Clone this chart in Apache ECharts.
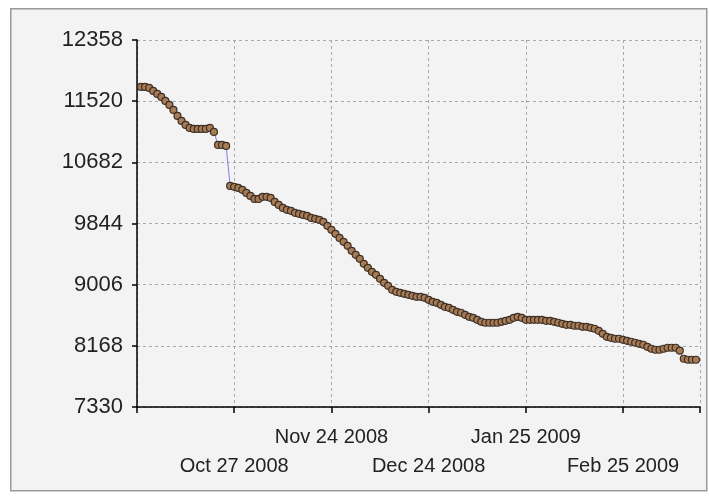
<!DOCTYPE html>
<html>
<head>
<meta charset="utf-8">
<script src="https://cdn.jsdelivr.net/npm/echarts@6/dist/echarts.min.js"></script>
<style>
html,body{margin:0;padding:0;background:#ffffff;}
#c{width:709px;height:498px;}
</style>
</head>
<body>
<div id="c"></div>
<script>
// Y-axis ticks
var yTicks = [7330, 8168, 9006, 9844, 10682, 11520, 12358];
// X tick labels (point index -> label)
var tickIndex = [0, 24, 48, 72, 96, 120];
var tickLabels = ['', 'Oct 27 2008', 'Nov 24 2008', 'Dec 24 2008', 'Jan 25 2009', 'Feb 25 2009'];
// Series values (one per point, starting at index 1)
var values = [
 11715, 11715, 11701, 11660, 11619, 11578, 11523, 11468, 11400, 11318,
 11249, 11194, 11153, 11140, 11140, 11140, 11140, 11153, 11099, 10920,
 10920, 10907, 10359, 10346, 10332, 10305, 10263, 10222, 10181, 10181,
 10209, 10209, 10195, 10140, 10099, 10058, 10031, 10017, 9990, 9976,
 9962, 9949, 9921, 9908, 9894, 9867, 9812, 9757, 9702, 9647,
 9593, 9538, 9469, 9415, 9360, 9292, 9237, 9182, 9141, 9086,
 9031, 8990, 8936, 8908, 8894, 8881, 8867, 8853, 8840, 8840,
 8826, 8799, 8771, 8757, 8730, 8703, 8689, 8662, 8634, 8621,
 8593, 8566, 8552, 8525, 8497, 8484, 8484, 8484, 8484, 8497,
 8511, 8525, 8552, 8566, 8552, 8525, 8525, 8525, 8525, 8525,
 8511, 8511, 8497, 8484, 8470, 8456, 8456, 8443, 8443, 8429,
 8429, 8415, 8402, 8374, 8333, 8292, 8278, 8265, 8265, 8251,
 8237, 8224, 8210, 8196, 8183, 8155, 8128, 8114, 8114, 8128,
 8142, 8142, 8142, 8101, 7991, 7977, 7977, 7977
];

var data = values.map(function (v, i) { return [i + 1, v]; });

var chart = echarts.init(document.getElementById('c'), null, {renderer: 'canvas'});
var font = 'Liberation Sans, Arial, sans-serif';
chart.setOption({
  animation: false,
  backgroundColor: '#ffffff',
  graphic: [{
    type: 'rect', left: 10, top: 8, z: -10,
    shape: {width: 696, height: 482},
    style: {fill: '#f3f3f3', stroke: '#9a9a9a', lineWidth: 1.5}
  }],
  grid: {left: 137, right: 9, top: 40, bottom: 91, containLabel: false},
  xAxis: {
    type: 'value', min: 0, max: 139, interval: 24,
    axisLine: {show: true, lineStyle: {color: '#000', width: 1.5}},
    axisTick: {show: true, length: 6, lineStyle: {color: '#000', width: 1.5}},
    splitLine: {show: true, lineStyle: {color: '#a8a8b0', type: [3, 3], width: 1}},
    axisLabel: {
      show: true, margin: 16, color: '#222', fontFamily: font, fontSize: 20, lineHeight: 29,
      formatter: function (v) {
        var k = tickIndex.indexOf(v);
        if (k <= 0) return '';
        return (k % 2 === 1) ? '\n' + tickLabels[k] : tickLabels[k];
      }
    }
  },
  yAxis: {
    type: 'value', min: yTicks[0], max: yTicks[yTicks.length - 1], interval: 838,
    axisLine: {show: true, lineStyle: {color: '#000', width: 1.5}},
    axisTick: {show: true, length: 5, lineStyle: {color: '#000', width: 1.5}},
    splitLine: {show: true, lineStyle: {color: '#a8a8b0', type: [3, 3], width: 1}},
    axisLabel: {margin: 14, color: '#222', fontFamily: font, fontSize: 22,
      formatter: function (v) { return String(v); }}
  },
  series: [{
    type: 'line', data: data,
    lineStyle: {color: '#7f7fe8', width: 1},
    symbol: 'circle', symbolSize: 7, showSymbol: true,
    itemStyle: {color: '#a87c55', borderColor: '#3e3026', borderWidth: 1.2},
    emphasis: {disabled: true}
  }]
});
</script>
</body>
</html>
